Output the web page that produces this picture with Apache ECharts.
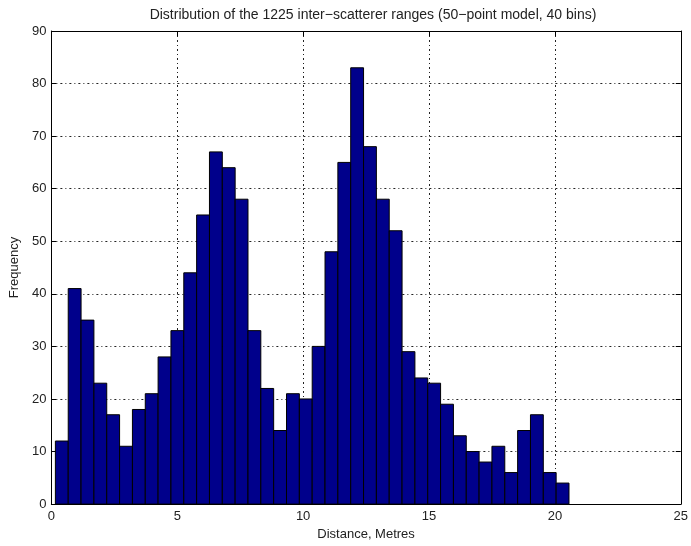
<!DOCTYPE html>
<html>
<head>
<meta charset="utf-8">
<script src="https://cdn.jsdelivr.net/npm/echarts@6/dist/echarts.min.js"></script>
<style>
  html, body { margin: 0; padding: 0; background: #fff; overflow: hidden; }
  #chart { width: 691px; height: 546px; }
</style>
</head>
<body>
<div id="chart"></div>
<script>
// Histogram of inter-scatterer ranges: 40 equal-width bins
const binStart = 0.16;      // left edge of first bin (metres)
const binWidth = 0.51;      // width of each bin (metres)
const counts = [
  12, 41, 35, 23, 17, 11, 18, 21, 28, 33,
  44, 55, 67, 64, 58, 33, 22, 14, 21, 20,
  30, 48, 65, 83, 68, 58, 52, 29, 24, 23,
  19, 13, 10, 8, 11, 6, 14, 17, 6, 4
];
const xTicks = [0, 5, 10, 15, 20, 25];
const yTicks = [0, 10, 20, 30, 40, 50, 60, 70, 80, 90];

const bins = counts.map((c, i) => [binStart + i * binWidth, binStart + (i + 1) * binWidth, c]);

const font = 'Liberation Sans, Arial, sans-serif';
const gridLine = { show: true, lineStyle: { color: '#222', width: 1, type: [2, 3, 1, 3] } };
const plot = { left: 50, right: 5, top: 31, bottom: 40 };

const chart = echarts.init(document.getElementById('chart'), null, { renderer: 'canvas' });
chart.setOption({
  animation: false,
  backgroundColor: '#fff',
  title: {
    text: 'Distribution of the 1225 inter\u2212scatterer ranges (50\u2212point model, 40 bins)',
    left: plot.left + (691 - plot.left - plot.right) / 2, textAlign: 'center', top: 3,
    textStyle: { fontFamily: font, fontSize: 14, fontWeight: 'normal', color: '#222' }
  },
  grid: plot,
  xAxis: [{
    type: 'value', min: 0, max: 25, interval: 5,
    name: 'Distance, Metres', nameLocation: 'middle', nameGap: 22,
    nameTextStyle: { fontFamily: font, fontSize: 13, color: '#222' },
    axisLine: { show: true, onZero: false, lineStyle: { color: '#000', width: 1 } },
    axisTick: { show: true, inside: true, length: 5, lineStyle: { color: '#000' } },
    axisLabel: { fontFamily: font, fontSize: 13, color: '#222', margin: 6,
      formatter: v => xTicks.includes(v) ? String(v) : '' },
    splitLine: gridLine
  }, {
    type: 'value', min: 0, max: 25, interval: 5, position: 'top',
    axisLine: { show: true, onZero: false, lineStyle: { color: '#000', width: 1 } },
    axisTick: { show: true, inside: true, length: 5, lineStyle: { color: '#000' } },
    axisLabel: { show: false }, splitLine: { show: false }
  }],
  yAxis: [{
    type: 'value', min: 0, max: 90, interval: 10,
    name: 'Frequency', nameLocation: 'middle', nameGap: 27, nameRotate: 90,
    nameTextStyle: { fontFamily: font, fontSize: 13, color: '#222' },
    axisLine: { show: true, onZero: false, lineStyle: { color: '#000', width: 1 } },
    axisTick: { show: true, inside: true, length: 5, lineStyle: { color: '#000' } },
    axisLabel: { fontFamily: font, fontSize: 13, color: '#222', margin: 5,
      formatter: v => yTicks.includes(v) ? String(v) : '' },
    splitLine: gridLine
  }, {
    type: 'value', min: 0, max: 90, interval: 10, position: 'right',
    axisLine: { show: true, onZero: false, lineStyle: { color: '#000', width: 1 } },
    axisTick: { show: true, inside: true, length: 5, lineStyle: { color: '#000' } },
    axisLabel: { show: false }, splitLine: { show: false }
  }],
  series: [{
    type: 'custom',
    xAxisIndex: 0, yAxisIndex: 0,
    data: bins,
    encode: { x: [0, 1], y: 2 },
    renderItem: function (params, api) {
      const p0 = api.coord([api.value(0), 0]);
      const p1 = api.coord([api.value(1), api.value(2)]);
      return {
        type: 'rect',
        shape: { x: p0[0], y: p1[1], width: p1[0] - p0[0], height: p0[1] - p1[1] },
        style: { fill: '#00008b', stroke: '#000', lineWidth: 1 }
      };
    }
  }]
});
</script>
</body>
</html>
